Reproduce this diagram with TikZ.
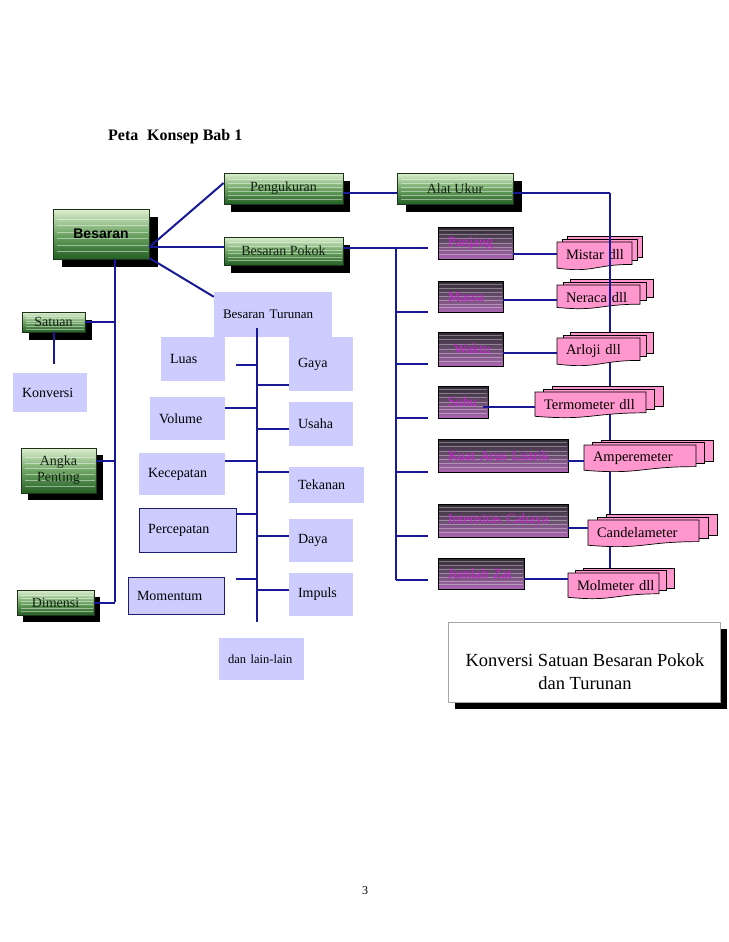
\documentclass[tikz,border=0pt]{standalone}
\usepackage{fontspec}
\setmainfont{Liberation Serif}
\setsansfont{Liberation Sans}
\usetikzlibrary{calc}
\pgfdeclarelayer{bg}
\pgfsetlayers{bg,main}
\definecolor{gtop}{RGB}{222,240,208}
\definecolor{gmid}{RGB}{110,165,100}
\definecolor{gbot}{RGB}{35,95,35}
\definecolor{gline}{RGB}{30,50,30}
\definecolor{gtext}{RGB}{20,35,20}
\definecolor{dtop}{RGB}{45,40,48}
\definecolor{dmid}{RGB}{105,78,110}
\definecolor{dbot}{RGB}{172,102,178}
\definecolor{magc}{RGB}{205,30,215}
\definecolor{pinkc}{RGB}{255,150,205}
\definecolor{lav}{RGB}{204,204,255}
\definecolor{connc}{RGB}{25,25,150}
\definecolor{navyb}{RGB}{30,30,110}
\newcommand\myGfont{\fontsize{14}{16}\selectfont}
\newcommand\myLfont{\fontsize{14}{16}\selectfont}
\newcommand\myPfont{\fontsize{14.5}{17}\selectfont}
% green box: name x1 y1 x2 y2 sdx sdy text
\newcommand\gbox[8]{%
  \fill[black] ({#2+#6},{#3+#7}) rectangle ({#4+#6},{#5+#7});
  \shade[top color=gtop, bottom color=gbot, middle color=gmid] (#2,#3) rectangle (#4,#5);
  \foreach \ff in {0.2,0.33,0.46,0.59,0.72,0.85}{%
    \draw[white, opacity=0.45, line width=0.7pt] ({#2+4},{#3+\ff*(#5-#3)}) -- ({#4-1},{#3+\ff*(#5-#3)});}
  \pgfmathsetmacro\bw{#4-#2}\pgfmathsetmacro\bh{#5-#3}%
  \node[draw=gline, line width=0.8pt, inner sep=0pt, minimum width=\bw pt, minimum height=\bh pt,
        font=\myGfont, align=center, text=gtext] (#1) at ({(#2+#4)/2},{(#3+#5)/2}) {#8};
}
% dark box: name x1 y1 x2 y2 text
\newcommand\dbox[6]{%
  \shade[top color=dtop, bottom color=dbot, middle color=dmid] (#2,#3) rectangle (#4,#5);
  \foreach \ff in {0.1,0.22,0.36,0.5,0.62,0.74,0.86}{%
    \draw[white, opacity=0.35, line width=0.6pt] ({#2+1},{#3+\ff*(#5-#3)}) -- ({#4-1},{#3+\ff*(#5-#3)});}
  \pgfmathsetmacro\bw{#4-#2}\pgfmathsetmacro\bh{#5-#3}\pgfmathsetmacro\tw{#4-#2-20}%
  \node[draw=black, line width=0.8pt, inner xsep=10pt, inner ysep=0pt, minimum width=\bw pt, minimum height=\bh pt,
        text width=\tw pt, align=left, font=\myLfont, text=magc] (#1) at ({(#2+#4)/2},{(#3+#5)/2}) {\mbox{#6}};
}
% lavender box: name x1 y1 x2 y2 text style
\newcommand\lbox[7]{%
  \pgfmathsetmacro\bw{#4-#2}\pgfmathsetmacro\bh{#5-#3}\pgfmathsetmacro\tw{#4-#2-18}%
  \node[fill=lav, inner xsep=9pt, inner ysep=0pt, minimum width=\bw pt, minimum height=\bh pt,
        text width=\tw pt, align=left, font=\myLfont, #7] (#1) at ({(#2+#4)/2},{(#3+#5)/2}) {\mbox{#6}};
}
% pink multi document: name x1 y1 x2 h dx dy text
\newcommand\pdoc[8]{%
  \foreach \kk in {2,1}{%
    \filldraw[fill=pinkc, draw=black, line width=0.7pt] ({#2+\kk*#6},{#3-\kk*#7}) rectangle ({#4+\kk*#6},{#3-\kk*#7+0.78*#5});}
  \filldraw[fill=pinkc, draw=black, line width=0.7pt] (#2,#3) -- (#4,#3) -- (#4,{#3+0.8*#5})
     .. controls ({(#2+#4)/2},{#3+0.8*#5}) and ({(#2+#4)/2},{#3+1.107*#5}) .. (#2,{#3+0.934*#5}) -- cycle;
  \pgfmathsetmacro\bw{#4-#2}\pgfmathsetmacro\tw{#4-#2-18}%
  \node[inner xsep=9pt, inner ysep=0pt, minimum width=\bw pt, minimum height=26pt,
        text width=\tw pt, align=left, font=\myPfont] (#1) at ({(#2+#4)/2},{#3+13}) {\mbox{#8}};
}
\newcommand\pconn[4]{\path ([xshift=#4pt,yshift=#3pt]#1.east) coordinate (tmpc); \draw[conn] (tmpc) -- (tmpc -| #2.west);}
\newcommand\tlconn[3]{\path ([xshift=#2pt,yshift=#3pt]#1.east) coordinate (tmpc); \draw[conn] (tmpc) -- (tmpc -| tt);}
\newcommand\trconn[2]{\path ([yshift=#2pt]#1.west) coordinate (tmpc); \draw[conn] (tmpc) -- (tmpc -| tt);}
\begin{document}
\begin{tikzpicture}[x=1pt,y=-1pt, conn/.style={draw=connc,line width=2pt}]
\begin{pgfonlayer}{bg}
\fill[white] (0,0) rectangle (728,942);
\end{pgfonlayer}
\useasboundingbox (0,0) rectangle (728,942);

\node[anchor=west, inner sep=0pt, font=\bfseries\fontsize{16}{19}\selectfont] (title) at (108,137) {Peta\hspace{0.55em}Konsep Bab 1};
\node[font=\fontsize{12}{14}\selectfont] (pg) at (365,891) {3};

% green boxes
\gbox{besaran}{53}{209}{149}{259}{9}{8}{\sffamily\bfseries\color{black}Besaran}
\gbox{peng}{224}{173}{343}{204}{7}{8}{Pengukuran}
\gbox{bp}{224}{237}{343}{265}{7}{8}{Besaran Pokok}
\gbox{alat}{397}{173}{513}{204}{9}{8}{Alat Ukur}
\gbox{satuan}{22}{312}{85}{332}{7}{8}{Satuan}
\gbox{angka}{21}{448}{96}{493}{7}{7}{Angka\\Penting}
\gbox{dimensi}{17}{590}{94}{615}{6}{7}{Dimensi}

% lavender boxes
\lbox{konv}{13}{373}{87}{412}{Konversi}{}
\lbox{bt}{214}{292}{332}{337}{\fontsize{13}{15}\selectfont Besaran Turunan}{}
\lbox{luas}{161}{337}{225}{381}{Luas}{}
\lbox{gaya}{289}{337}{353}{391}{Gaya}{}
\lbox{volume}{150}{397}{225}{440}{Volume}{}
\lbox{usaha}{289}{402}{353}{446}{Usaha}{}
\lbox{kec}{139}{453}{225}{495}{Kecepatan}{}
\lbox{tek}{289}{467}{364}{503}{Tekanan}{}
\lbox{perc}{139}{508}{236}{552}{Percepatan}{draw=navyb, line width=0.8pt}
\lbox{daya}{289}{519}{353}{562}{Daya}{}
\lbox{mom}{128}{577}{224}{614}{Momentum}{draw=navyb, line width=0.8pt}
\lbox{imp}{289}{573}{353}{616}{Impuls}{}
\lbox{dll}{219}{638}{304}{680}{\fontsize{12.5}{14}\selectfont dan lain-lain}{inner xsep=8pt}

% dark boxes
\dbox{panjang}{438}{227}{513}{259}{Panjang}
\dbox{massa}{438}{281}{503}{312}{Massa}
\dbox{waktu}{438}{332}{503}{366}{\hspace{6pt}Waktu}
\dbox{suhu}{438}{386}{488}{418}{Suhu}
\dbox{kuat}{438}{439}{568}{472}{Kuat Arus Listrik}
\dbox{intens}{438}{504}{568}{537}{Intensitas Cahaya}
\dbox{jumlah}{438}{558}{524}{589}{Jumlah Zat}

% pink documents
\pdoc{mistar}{557}{242}{632}{28}{5}{3}{Mistar dll}
\pdoc{neraca}{557}{285}{640}{24}{6.5}{3}{Neraca dll}
\pdoc{arloji}{557}{338}{640}{28}{6.5}{3}{Arloji dll}
\pdoc{termo}{535}{392}{646}{26}{8.5}{3}{Termometer dll}
\pdoc{ampere}{584}{445}{696}{27}{8.5}{2.5}{Amperemeter}
\pdoc{candela}{588}{520}{699}{27}{9}{3}{Candelameter}
\pdoc{molm}{568}{573}{659}{26}{7.5}{2.5}{Molmeter dll}

% bottom box
\fill[black] (455,629) rectangle (727,709);
\node[draw=gray!70, fill=white, line width=0.6pt, minimum width=272pt, minimum height=80pt, inner sep=0pt] (kbox) at (584,662) {};
\node[font=\fontsize{18.5}{23}\selectfont, align=center] (ktext) at (585,672) {Konversi Satuan Besaran Pokok\\dan Turunan};

% connectors from Besaran
\draw[conn] ([yshift=-13pt]besaran.east) -- ([yshift=5.5pt]peng.west);
\draw[conn] ([yshift=-13pt]besaran.east) -- ([yshift=4pt]bp.west);
\draw[conn] ([yshift=-24pt]besaran.east) -- ([yshift=-5pt]bt.north west);
\coordinate (lt) at (115,602);
\draw[conn] ([xshift=14pt]besaran.south) -- (lt);
\draw[conn] (satuan.east) -- (satuan.east -| lt);
\path ([yshift=9.5pt]angka.east) coordinate (tmpc); \draw[conn] (tmpc) -- (tmpc -| lt);
\draw[conn] (dimensi.east) -- (dimensi.east -| lt);
\draw[conn] (satuan.south) -- ++(0,32);

% Pengukuran - Alat Ukur - right trunk
\draw[conn] ([yshift=-4.5pt]peng.east) -- ([yshift=-4.5pt]alat.west);
\coordinate (rt) at (610,193);
\draw[conn] ([yshift=-4.5pt]alat.east) -- (rt);
\begin{pgfonlayer}{bg}
\draw[conn] (rt) -- (rt |- molm.north);
\end{pgfonlayer}
\draw[conn] (rt) -- (rt |- neraca.south);

% Besaran Pokok branches
\draw[conn] ([yshift=3pt]bp.east) -- ([xshift=-10pt,yshift=-5pt]panjang.west);
\draw[conn] ([xshift=-42pt,yshift=-5pt]panjang.west) -- ([xshift=-42pt,yshift=-6.5pt]jumlah.west);
\foreach \n/\s in {massa/-15.5, waktu/-15, suhu/-16, kuat/-16.5, intens/-15.5, jumlah/-6.5}{
  \draw[conn] ([xshift=-42pt,yshift=\s pt]\n.west) -- ([xshift=-10pt,yshift=\s pt]\n.west);
}

% dark to pink
\pconn{panjang}{mistar}{-11}{0}
\pconn{massa}{neraca}{-3.5}{0}
\pconn{waktu}{arloji}{-4}{0}
\pconn{suhu}{termo}{-5}{-5}
\pconn{kuat}{ampere}{-5.5}{0}
\pconn{intens}{candela}{-7.5}{0}
\pconn{jumlah}{molm}{-5.5}{0}

% Besaran Turunan trunk
\path ([xshift=-16pt,yshift=9pt]bt.south) coordinate (tt);
\path ([yshift=16pt]dll.north) coordinate (tbb);
\draw[conn] (tt) -- (tt |- tbb);
\tlconn{luas}{11}{-6}
\tlconn{volume}{0}{10.5}
\tlconn{kec}{0}{13}
\tlconn{perc}{0}{16}
\tlconn{mom}{12}{16.5}
\trconn{gaya}{-21}
\trconn{usaha}{-5}
\trconn{tek}{13}
\trconn{daya}{4.5}
\trconn{imp}{4.5}
\end{tikzpicture}
\end{document}
